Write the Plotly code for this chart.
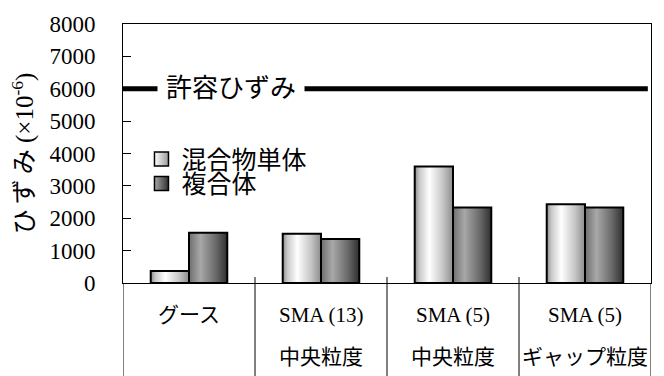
import plotly.graph_objects as go

# Data
row1_labels = ["グース", "SMA (13)", "SMA (5)", "SMA (5)"]
row2_labels = ["", "中央粒度", "中央粒度", "ギャップ粒度"]
series_names = ["混合物単体", "複合体"]
mix_single = [370, 1520, 3600, 2430]
composite = [1550, 1360, 2330, 2330]
allowable_strain = 6000
allowable_label = "許容ひずみ"
y_ticks = [0, 1000, 2000, 3000, 4000, 5000, 6000, 7000, 8000]

FONT = "Liberation Serif, Noto Sans CJK JP, serif"

# cylinder-like shading for each series
gradients = [
    [[0, "#8a8a8a"], [0.12, "#c8c8c8"], [0.38, "#ffffff"], [0.75, "#c4c4c4"], [1, "#8c8c8c"]],
    [[0, "#6e6e6e"], [0.3, "#a8a8a8"], [0.7, "#6a6a6a"], [1, "#2e2e2e"]],
]
swatch_colors = [("#ffffff", "#9a9a9a"), ("#a8a8a8", "#303030")]

bar_w = 0.29
offsets = [-bar_w / 2, bar_w / 2]

fig = go.Figure()

for s, values in enumerate([mix_single, composite]):
    for i, v in enumerate(values):
        cx = i + offsets[s]
        x0, x1 = cx - bar_w / 2, cx + bar_w / 2
        fig.add_trace(go.Scatter(
            x=[x0, x0, x1, x1, x0],
            y=[0, v, v, 0, 0],
            mode="lines",
            fill="toself",
            fillgradient=dict(type="horizontal", colorscale=gradients[s],
                              start=x0, stop=x1),
            line=dict(color="black", width=2),
            showlegend=False,
            hoverinfo="skip",
        ))

# legend entries with shaded square swatches, one legend box per series
legend_ids = ["legend", "legend2"]
for s, name in enumerate(series_names):
    fig.add_trace(go.Scatter(
        x=[None], y=[None],
        mode="markers",
        name=name,
        legend=legend_ids[s],
        marker=dict(
            symbol="square",
            size=14,
            color=swatch_colors[s][0],
            gradient=dict(type="horizontal", color=swatch_colors[s][1]),
            line=dict(color="black", width=1.5),
        ),
    ))

# allowable strain line, broken by its label
fig.add_shape(type="line", xref="paper", yref="y",
              x0=0, x1=0.994, y0=allowable_strain, y1=allowable_strain,
              line=dict(color="black", width=5))
fig.add_annotation(x=0.318, y=allowable_strain, xref="x", yref="y",
                   text=allowable_label, showarrow=False,
                   font=dict(family=FONT, size=26, color="black"),
                   bgcolor="white", borderpad=8)

# table-style separators below the category axis
for b in [-0.5, 0.5, 1.5, 2.5, 3.5]:
    fig.add_shape(type="line", xref="x", yref="paper",
                  x0=b, x1=b, y0=-0.36, y1=0.023 if -0.5 < b < 3.5 else 0,
                  line=dict(color="black", width=1))

# two-row category labels
for i, (a, b) in enumerate(zip(row1_labels, row2_labels)):
    fig.add_annotation(x=i, y=-0.125, xref="x", yref="paper", text=a,
                       yanchor="middle", showarrow=False,
                       font=dict(family=FONT, size=21, color="black"))
    if b:
        fig.add_annotation(x=i, y=-0.284, xref="x", yref="paper", text=b,
                           yanchor="middle", showarrow=False,
                           font=dict(family=FONT, size=21, color="black"))

legend_style = dict(xanchor="left", yanchor="top", bgcolor="rgba(0,0,0,0)",
                    font=dict(family=FONT, size=25, color="black"), itemwidth=30)
fig.update_layout(
    width=664, height=376,
    margin=dict(l=123, r=13, t=19, b=93),
    paper_bgcolor="white", plot_bgcolor="white",
    font=dict(family=FONT, color="black"),
    legend=dict(x=0.035, y=0.567, **legend_style),
    legend2=dict(x=0.035, y=0.472, **legend_style),
    showlegend=True,
)
fig.update_xaxes(range=[-0.5, 3.5], showgrid=False, zeroline=False,
                 showline=True, linecolor="black", linewidth=1, mirror=True,
                 showticklabels=False, ticks="")
fig.update_yaxes(range=[0, 8000], tickvals=y_ticks, showgrid=False, zeroline=False,
                 showline=True, linecolor="black", linewidth=1, mirror=True,
                 ticks="inside", ticklen=8, tickcolor="black",
                 ticklabelstandoff=22,
                 tickfont=dict(family=FONT, size=23, color="black"),
                 title=dict(text="ひ\u2009ず\u2009み (×10<sup>-6</sup>)",
                            font=dict(family=FONT, size=25, color="black"),
                            standoff=8))

fig.write_html("out.html")
